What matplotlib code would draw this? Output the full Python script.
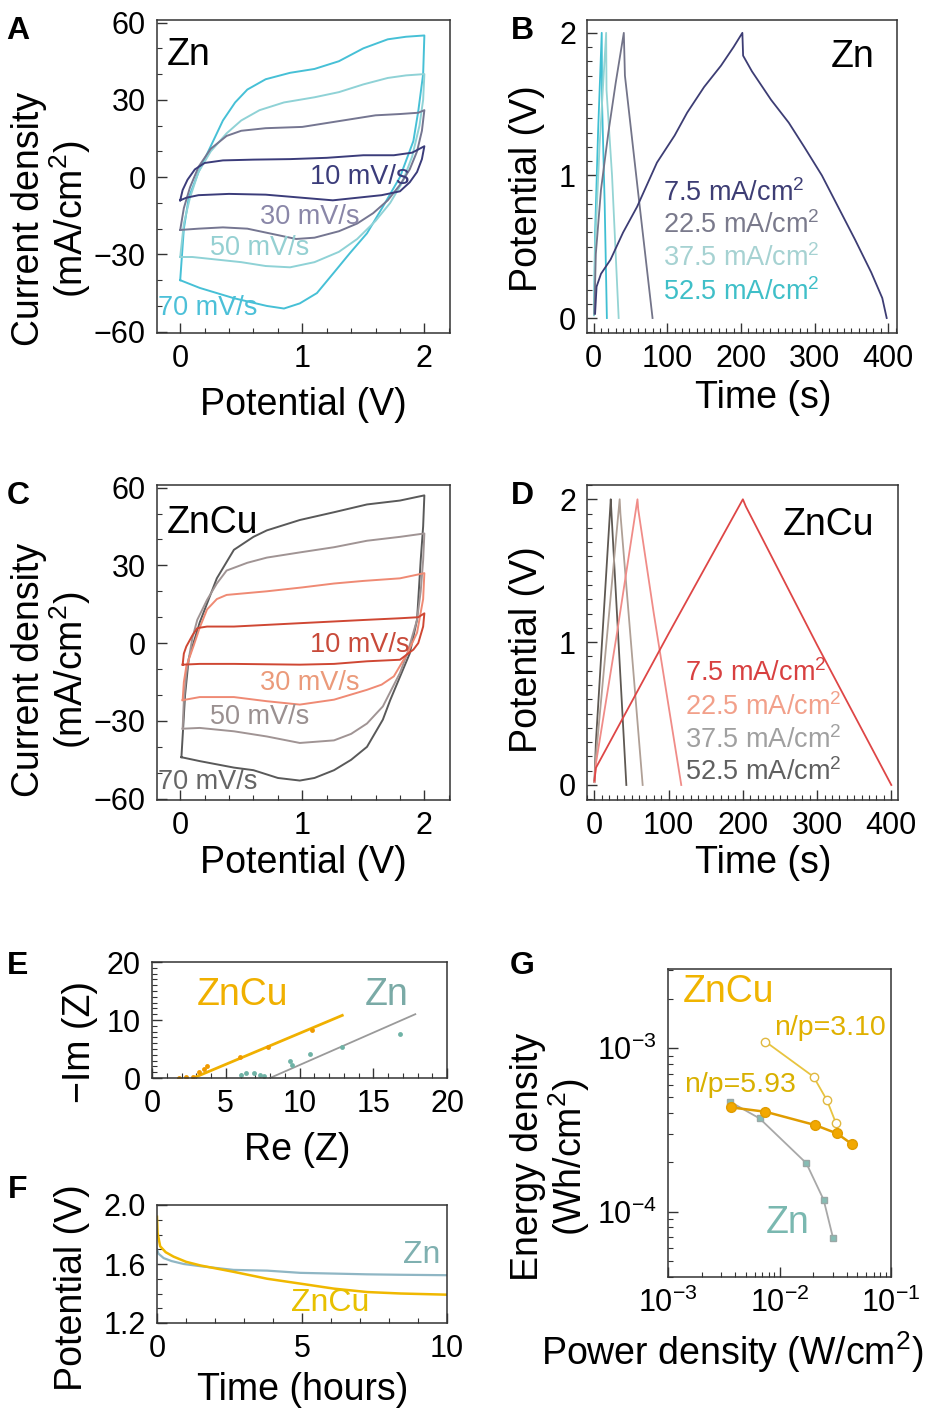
import numpy as np
import matplotlib as mpl
mpl.use("Agg")
import matplotlib.pyplot as plt
from matplotlib.ticker import MultipleLocator, LogLocator, NullFormatter

# ---- panel A: Zn cyclic voltammetry (forward + reverse branches) ----
zn_cv_10_x = [0, 0.02, 0.06, 0.12, 0.2, 0.35, 0.6, 0.9, 1.2, 1.5, 1.75, 1.9, 2.0,
              1.98, 1.94, 1.88, 1.8, 1.65, 1.45, 1.25, 1.0, 0.7, 0.4, 0.15, 0.05, 0]
zn_cv_10_y = [-9, -5, -1, 3, 5.5, 6.5, 6.8, 7, 7.5, 8.5, 8.5, 9.5, 12,
              7, 2, -2, -5.5, -7, -8, -9, -8, -6.8, -6.5, -7, -8, -9]
zn_cv_30_x = [0, 0.03, 0.08, 0.15, 0.25, 0.38, 0.5, 0.7, 1.0, 1.2, 1.4, 1.6, 1.8, 1.95, 2.0,
              1.98, 1.94, 1.88, 1.8, 1.7, 1.58, 1.45, 1.3, 1.1, 0.95, 0.75, 0.55, 0.35, 0.15, 0]
zn_cv_30_y = [-20.5, -12, -4, 4, 11, 16, 18, 19, 19.5, 21, 22.5, 24, 24.5, 25, 26,
              18, 10, 3, -3, -9, -14, -18, -21, -23.5, -24, -22, -20, -19.5, -20, -20.5]
zn_cv_50_x = [0, 0.03, 0.08, 0.15, 0.25, 0.38, 0.5, 0.65, 0.85, 1.1, 1.3, 1.5, 1.7, 1.85, 2.0,
              1.99, 1.96, 1.9, 1.82, 1.72, 1.6, 1.45, 1.3, 1.1, 0.9, 0.7, 0.5, 0.3, 0.1, 0]
zn_cv_50_y = [-31, -18, -8, 2, 10, 17, 22, 26, 29, 31, 33, 36, 38.5, 39.5, 40,
              30, 20, 8, -2, -10, -17, -24, -29, -33, -35, -34.5, -33, -32, -31, -31]
zn_cv_70_x = [0, 0.03, 0.07, 0.15, 0.25, 0.35, 0.45, 0.55, 0.7, 0.9, 1.1, 1.3, 1.5, 1.7, 1.85, 2.0,
              1.99, 1.95, 1.91, 1.8, 1.66, 1.53, 1.39, 1.26, 1.12, 0.98, 0.85, 0.71, 0.44, 0.16, 0]
zn_cv_70_y = [-40, -20, -8, 2, 12, 22, 29, 34, 38, 40.5, 42, 45, 50, 53.5, 54.5, 55,
              40, 25.6, 14, 0, -11.5, -21.8, -29.5, -37, -45, -49, -51, -50, -47, -43, -40]

# ---- panel C: ZnCu cyclic voltammetry ----
zncu_cv_10_x = [0.02, 0.03, 0.05, 0.1, 0.14, 0.22, 0.44, 0.98, 1.53, 1.8, 1.95, 2.0,
                1.99, 1.95, 1.91, 1.8, 1.53, 1.26, 0.98, 0.44, 0.16, 0.02]
zncu_cv_10_y = [-8.3, -4, -1.3, 3, 5.8, 6.4, 6.4, 7.7, 9, 9.6, 10, 11.5,
                6.4, 0, -2.5, -6.4, -7, -8, -8.3, -8, -8, -8.3]
zncu_cv_30_x = [0.02, 0.03, 0.05, 0.11, 0.16, 0.22, 0.3, 0.38, 0.71, 1.0, 1.26, 1.5, 1.8, 2.0,
                1.99, 1.94, 1.86, 1.75, 1.65, 1.53, 1.26, 0.98, 0.71, 0.44, 0.16, 0.02]
zncu_cv_30_y = [-22, -15, -9, -1, 6, 13, 17, 18.6, 20, 21.5, 23, 24, 25, 27,
                17, 4, -4, -12.8, -16, -18, -21.8, -23.7, -22.4, -20.8, -20.8, -22]
zncu_cv_50_x = [0.02, 0.03, 0.05, 0.1, 0.14, 0.22, 0.3, 0.38, 0.55, 0.71, 0.98, 1.26, 1.53, 1.8, 2.0,
                1.99, 1.97, 1.94, 1.86, 1.8, 1.66, 1.53, 1.4, 1.26, 0.98, 0.71, 0.44, 0.16, 0.02]
zncu_cv_50_y = [-33, -22, -11.5, 2, 9, 16.7, 23, 28, 31, 33, 35, 37, 39.5, 41, 42.3,
                32, 20, 9, -4, -11.5, -24.4, -31, -35, -37.5, -38.5, -36, -34, -32.7, -33]
zncu_cv_70_x = [0.01, 0.02, 0.04, 0.07, 0.16, 0.3, 0.44, 0.6, 0.71, 0.98, 1.26, 1.53, 1.8, 2.0,
                1.99, 1.97, 1.94, 1.88, 1.8, 1.72, 1.66, 1.53, 1.4, 1.26, 1.1, 0.98, 0.8, 0.6, 0.44, 0.16, 0.01]
zncu_cv_70_y = [-44, -36, -20, -6, 8, 25, 36, 41, 43.5, 47.5, 50.5, 53.5, 55, 57,
                45, 32, 9, -4, -13, -22, -29.5, -40, -45, -49, -52, -53, -52, -49, -48, -45.5, -44]

# ---- panel B: Zn charge/discharge ----
zn_gcd_75_t = [2, 4, 10, 23, 40, 59, 86, 110, 127, 150, 173, 190, 202, 203, 215, 241, 265, 286,
               310, 332, 355, 377, 392, 398]
zn_gcd_75_v = [0.03, 0.22, 0.31, 0.41, 0.6, 0.78, 1.09, 1.28, 1.44, 1.62, 1.77, 1.9, 2.0, 1.84,
               1.73, 1.53, 1.37, 1.2, 1.0, 0.78, 0.55, 0.32, 0.14, 0.0]
zn_gcd_225_t = [1, 3, 10, 20, 30, 41, 42.5, 60, 70, 80]
zn_gcd_225_v = [0.03, 0.45, 0.9, 1.3, 1.65, 2.0, 1.7, 0.9, 0.45, 0.0]
zn_gcd_375_t = [0.5, 2, 8, 17, 17.5, 25, 34]
zn_gcd_375_v = [0.02, 0.5, 1.2, 2.0, 1.6, 1.0, 0.0]
zn_gcd_525_t = [0.5, 2, 6, 11, 11.5, 15, 18]
zn_gcd_525_v = [0.02, 0.6, 1.3, 2.0, 1.5, 0.8, 0.0]

# ---- panel D: ZnCu charge/discharge ----
zncu_gcd_75_t = [0, 2, 100, 200, 204, 300, 400]
zncu_gcd_75_v = [0.03, 0.12, 1.06, 2.0, 1.95, 0.98, 0.0]
zncu_gcd_225_t = [0, 2, 30, 58, 59, 80, 100, 117]
zncu_gcd_225_v = [0.02, 0.15, 1.05, 2.0, 1.93, 1.2, 0.55, 0.0]
zncu_gcd_375_t = [0, 2, 34, 35, 65]
zncu_gcd_375_v = [0.02, 0.2, 2.0, 1.9, 0.0]
zncu_gcd_525_t = [0, 2, 22, 23, 43]
zncu_gcd_525_v = [0.02, 0.3, 2.0, 1.9, 0.0]

# ---- panel E: Nyquist ----
zncu_re = [1.8, 2.3, 2.8, 3.2, 3.5, 3.7, 5.96, 7.88, 10.83]
zncu_im = [0.05, 0.1, 0.2, 1.0, 1.6, 2.0, 3.6, 5.3, 8.2]
zncu_fit_re = [2.8, 12.9]
zncu_fit_im = [0.0, 10.8]
zn_re = [6.0, 6.4, 6.9, 7.3, 7.6, 9.35, 9.46, 10.7, 12.86, 16.8]
zn_im = [0.6, 0.9, 0.9, 0.6, 0.3, 3.0, 2.2, 4.2, 5.3, 7.6]
zn_fit_re = [8.0, 17.85]
zn_fit_im = [0.0, 11.0]

# ---- panel F: discharge over hours ----
zn_dis_t = [0, 0.05, 0.23, 0.5, 0.92, 1.5, 2.64, 3.8, 4.94, 6.1, 7.24, 8.4, 10]
zn_dis_v = [1.70, 1.67, 1.64, 1.62, 1.60, 1.585, 1.56, 1.555, 1.54, 1.535, 1.53, 1.527, 1.524]
zncu_dis_t = [0, 0.02, 0.11, 0.3, 0.57, 1.0, 1.5, 2.64, 3.8, 4.94, 6.1, 7.24, 8.4, 10]
zncu_dis_v = [1.92, 1.81, 1.72, 1.68, 1.65, 1.615, 1.59, 1.547, 1.50, 1.467, 1.433, 1.41, 1.40, 1.392]

# ---- panel G: Ragone ----
zncu593_p = [3.67e-3, 7.47e-3, 0.0209, 0.0328, 0.0447]
zncu593_e = [4.35e-4, 4.09e-4, 3.39e-4, 3.01e-4, 2.59e-4]
zncu310_p = [7.47e-3, 0.0202, 0.0266, 0.032]
zncu310_e = [1.10e-3, 6.7e-4, 4.82e-4, 3.5e-4]
zn_rag_p = [3.62e-3, 6.64e-3, 0.0174, 0.0249, 0.0302]
zn_rag_e = [4.7e-4, 3.72e-4, 1.98e-4, 1.18e-4, 6.9e-5]

W, H = 930, 1415

plt.rcParams.update({
    "font.family": ["Liberation Sans", "DejaVu Sans"],
    "mathtext.fontset": "custom",
    "mathtext.rm": "Liberation Sans",
    "mathtext.it": "Liberation Sans:italic",
    "mathtext.bf": "Liberation Sans:bold",
    "axes.linewidth": 1.1,
    "axes.edgecolor": "#333333",
})

fig = plt.figure(figsize=(W / 100, H / 100), dpi=100)


def px_axes(l, t, r, b):
    return fig.add_axes([l / W, 1 - b / H, (r - l) / W, (b - t) / H])


def ftext(x, y, s, **kw):
    kw.setdefault("ha", "center")
    kw.setdefault("va", "center")
    return fig.text(x / W, 1 - y / H, s, **kw)


def style(ax, tick_size=22):
    ax.tick_params(which="both", direction="in", top=False, right=False,
                   labelsize=tick_size, color="#333333", pad=8)
    ax.tick_params(which="major", length=7, width=1.0)
    ax.tick_params(which="minor", length=3.5, width=0.8)


LW = 1.4
AX = 27    # axis label size
BIG = 27   # in-panel sample names
SMALL = 19.5

# A
axA = px_axes(157, 20, 450, 333)
for xs, ys, c in [(zn_cv_70_x, zn_cv_70_y, "#46c0d6"), (zn_cv_50_x, zn_cv_50_y, "#8fd2d6"),
                  (zn_cv_30_x, zn_cv_30_y, "#757691"), (zn_cv_10_x, zn_cv_10_y, "#3b3c7a")]:
    axA.plot(xs, ys, color=c, lw=LW)
axA.set_xlim(-0.19, 2.21)
axA.set_ylim(-60.5, 61)
axA.set_xticks([0, 1, 2])
axA.set_yticks([-60, -30, 0, 30, 60])
axA.xaxis.set_minor_locator(MultipleLocator(0.2))
axA.yaxis.set_minor_locator(MultipleLocator(10))
style(axA)

# C
axC = px_axes(157, 485, 450, 800)
for xs, ys, c in [(zncu_cv_70_x, zncu_cv_70_y, "#595959"), (zncu_cv_50_x, zncu_cv_50_y, "#a09494"),
                  (zncu_cv_30_x, zncu_cv_30_y, "#ef8a74"), (zncu_cv_10_x, zncu_cv_10_y, "#cf4733")]:
    axC.plot(xs, ys, color=c, lw=LW)
axC.set_xlim(-0.19, 2.21)
axC.set_ylim(-60.5, 61)
axC.set_xticks([0, 1, 2])
axC.set_yticks([-60, -30, 0, 30, 60])
axC.xaxis.set_minor_locator(MultipleLocator(0.2))
axC.yaxis.set_minor_locator(MultipleLocator(10))
style(axC)

# B
axB = px_axes(587, 20, 897, 333)
for ts, vs, c in [(zn_gcd_525_t, zn_gcd_525_v, "#3fbfd3"), (zn_gcd_375_t, zn_gcd_375_v, "#94d4d4"),
                  (zn_gcd_225_t, zn_gcd_225_v, "#737489"), (zn_gcd_75_t, zn_gcd_75_v, "#3d3d74")]:
    axB.plot(ts, vs, color=c, lw=1.3)
axB.set_xlim(-9, 412)
axB.set_ylim(-0.105, 2.09)
axB.set_xticks([0, 100, 200, 300, 400])
axB.set_yticks([0, 1, 2])
axB.xaxis.set_minor_locator(MultipleLocator(10))
axB.yaxis.set_minor_locator(MultipleLocator(0.1))
style(axB)

# D
axD = px_axes(587, 485, 898, 800)
for ts, vs, c in [(zncu_gcd_525_t, zncu_gcd_525_v, "#5e5852"), (zncu_gcd_375_t, zncu_gcd_375_v, "#b0a096"),
                  (zncu_gcd_225_t, zncu_gcd_225_v, "#f08c88"), (zncu_gcd_75_t, zncu_gcd_75_v, "#de4646")]:
    axD.plot(ts, vs, color=c, lw=1.3)
axD.set_xlim(-10, 409)
axD.set_ylim(-0.105, 2.1)
axD.set_xticks([0, 100, 200, 300, 400])
axD.set_yticks([0, 1, 2])
axD.xaxis.set_minor_locator(MultipleLocator(10))
axD.yaxis.set_minor_locator(MultipleLocator(0.1))
style(axD)

# E
axE = px_axes(152, 962, 447, 1078)
axE.plot(zncu_fit_re, zncu_fit_im, color="#f0b000", lw=2.0)
axE.plot(zncu_re, zncu_im, "o", color="#f09a00", ms=3.5, mew=0)
axE.plot(zn_fit_re, zn_fit_im, color="#9a9a9a", lw=1.3)
axE.plot(zn_re, zn_im, "o", color="#6fb3a6", ms=3.5, mew=0)
axE.set_xlim(0, 20)
axE.set_ylim(0, 20)
axE.set_xticks([0, 5, 10, 15, 20])
axE.set_yticks([0, 10, 20])
axE.xaxis.set_minor_locator(MultipleLocator(1))
axE.yaxis.set_minor_locator(MultipleLocator(1))
style(axE)

# F
axF = px_axes(157, 1205, 447, 1323)
axF.plot(zn_dis_t, zn_dis_v, color="#8fb6c4", lw=1.6)
axF.plot(zncu_dis_t, zncu_dis_v, color="#f0b800", lw=1.8)
axF.set_xlim(0, 10)
axF.set_ylim(1.2, 2.0)
axF.set_xticks([0, 5, 10])
axF.set_yticks([1.2, 1.6, 2.0])
axF.set_yticklabels(["1.2", "1.6", "2.0"])
axF.xaxis.set_minor_locator(MultipleLocator(1))
axF.yaxis.set_minor_locator(MultipleLocator(0.1))
style(axF)

# G
axG = px_axes(668, 969, 891, 1277)
axG.plot(zn_rag_p, zn_rag_e, "-s", color="#a8a8a8", mfc="#86bdb4", mec="#9aa8a6", ms=5, lw=1.3)
axG.plot(zncu310_p, zncu310_e, "-o", color="#e8c440", mfc="white", mec="#e0b840", ms=6, lw=1.3)
axG.plot(zncu593_p, zncu593_e, "-o", color="#e09c00", mfc="#f2a800", mec="#e09c00", ms=7, lw=1.8)
axG.set_xscale("log")
axG.set_yscale("log")
axG.set_xlim(1e-3, 1e-1)
axG.set_ylim(3.98e-5, 3.06e-3)
axG.set_xticks([1e-3, 1e-2, 1e-1])
axG.set_yticks([1e-4, 1e-3])
axG.xaxis.set_minor_locator(LogLocator(base=10, subs=np.arange(2, 10)))
axG.yaxis.set_minor_locator(LogLocator(base=10, subs=np.arange(2, 10)))
axG.xaxis.set_minor_formatter(NullFormatter())
axG.yaxis.set_minor_formatter(NullFormatter())
style(axG)

# axis labels
ftext(303, 405, "Potential (V)", fontsize=AX)
ftext(52, 219, "Current density\n(mA/cm$^2$)", fontsize=AX, rotation=90, linespacing=1.0)
ftext(763, 398, "Time (s)", fontsize=AX)
ftext(527, 189, "Potential (V)", fontsize=AX, rotation=90)
ftext(303, 863, "Potential (V)", fontsize=AX)
ftext(52, 670, "Current density\n(mA/cm$^2$)", fontsize=AX, rotation=90, linespacing=1.0)
ftext(763, 863, "Time (s)", fontsize=AX)
ftext(527, 650, "Potential (V)", fontsize=AX, rotation=90)
ftext(297, 1150, "Re (Z)", fontsize=AX)
ftext(80, 1042, "\u2212Im (Z)", fontsize=AX, rotation=90)
ftext(303, 1390, "Time (hours)", fontsize=AX)
ftext(72, 1288, "Potential (V)", fontsize=AX, rotation=90)
ftext(732, 1352, "Power density (W/cm$^2$)", fontsize=AX)
ftext(551, 1157, "Energy density\n(Wh/cm$^2$)", fontsize=AX, rotation=90, linespacing=1.0)

# panel letters
for x, y, s in [(18, 31, "A"), (522, 31, "B"), (18, 496, "C"), (522, 496, "D"),
                (18, 966, "E"), (18, 1190, "F"), (522, 966, "G")]:
    ftext(x, y, s, fontsize=23, fontweight="bold")

# in-panel labels
ftext(167, 55, "Zn", fontsize=BIG, ha="left")
ftext(360, 177, "10 mV/s", fontsize=SMALL, color="#3b3c7a")
ftext(310, 217, "30 mV/s", fontsize=SMALL, color="#8a87a8")
ftext(260, 248, "50 mV/s", fontsize=SMALL, color="#95d0d2")
ftext(208, 308, "70 mV/s", fontsize=SMALL, color="#4cc0d8")

ftext(167, 523, "ZnCu", fontsize=BIG, ha="left")
ftext(360, 645, "10 mV/s", fontsize=SMALL, color="#c84a3a")
ftext(310, 683, "30 mV/s", fontsize=SMALL, color="#eb9a7a")
ftext(260, 717, "50 mV/s", fontsize=SMALL, color="#9a9090")
ftext(208, 782, "70 mV/s", fontsize=SMALL, color="#666666")

ftext(853, 57, "Zn", fontsize=BIG)
for y, s, c in [(193, "7.5 mA/cm$^2$", "#3d3d74"), (225, "22.5 mA/cm$^2$", "#7a7a8c"),
                (258, "37.5 mA/cm$^2$", "#a6d2d2"), (292, "52.5 mA/cm$^2$", "#3fbfc8")]:
    ftext(663, y, s, fontsize=SMALL, ha="left", color=c)

ftext(828, 525, "ZnCu", fontsize=BIG)
for y, s, c in [(673, "7.5 mA/cm$^2$", "#d84040"), (707, "22.5 mA/cm$^2$", "#f2a08a"),
                (740, "37.5 mA/cm$^2$", "#a0a0a0"), (772, "52.5 mA/cm$^2$", "#606060")]:
    ftext(685, y, s, fontsize=SMALL, ha="left", color=c)

ftext(242, 995, "ZnCu", fontsize=BIG, color="#f0b000")
ftext(387, 995, "Zn", fontsize=BIG, color="#7aaaa6")
ftext(422, 1255, "Zn", fontsize=23, color="#7fb0b0")
ftext(330, 1303, "ZnCu", fontsize=23, color="#e8c000")
ftext(728, 992, "ZnCu", fontsize=BIG, color="#f0b400")
ftext(830, 1028, "n/p=3.10", fontsize=20.5, color="#e0b000")
ftext(740, 1085, "n/p=5.93", fontsize=20.5, color="#d8b000")
ftext(788, 1223, "Zn", fontsize=BIG, color="#7ab8b0")

fig.savefig("out.png", dpi=100)
